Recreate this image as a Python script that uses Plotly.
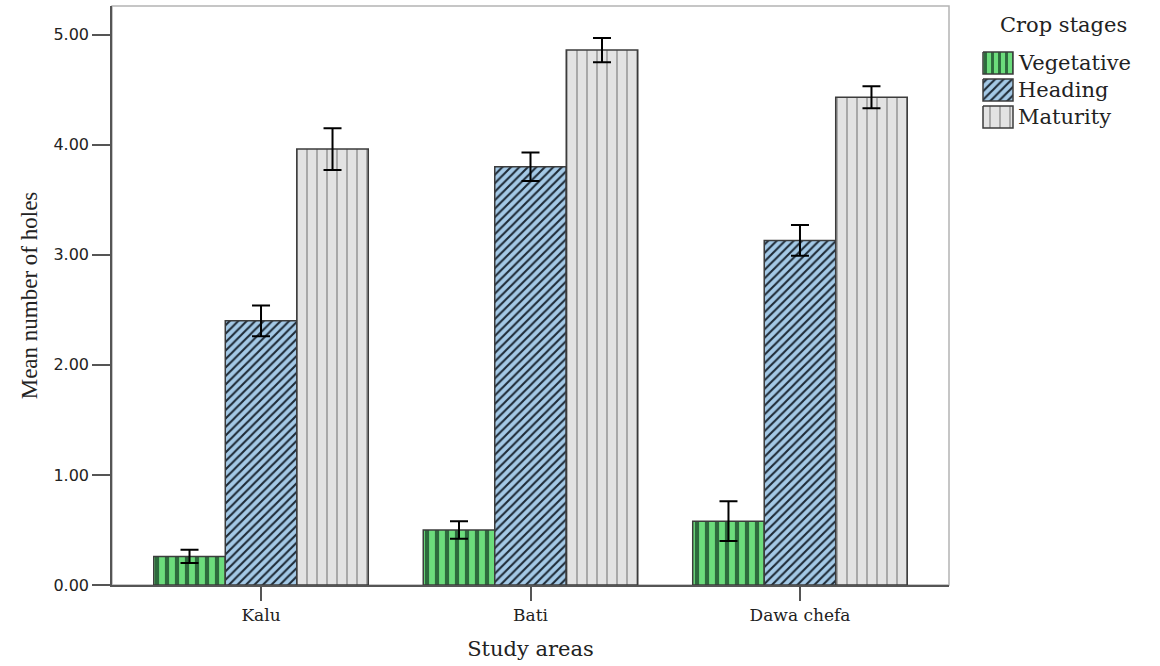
import plotly.graph_objects as go

# Study areas and crop stages
areas = ["Kalu", "Bati", "Dawa chefa"]
stages = ["Vegetative", "Heading", "Maturity"]

# Mean number of holes per stage (one value per study area) and error half-widths
vegetative = [0.26, 0.50, 0.58]
vegetative_err = [0.06, 0.08, 0.18]
heading = [2.40, 3.80, 3.13]
heading_err = [0.14, 0.13, 0.14]
maturity = [3.96, 4.86, 4.43]
maturity_err = [0.19, 0.11, 0.10]

y_tick_vals = [0, 1, 2, 3, 4, 5]
y_tick_text = ["0.00", "1.00", "2.00", "3.00", "4.00", "5.00"]

series = {
    "Vegetative": (vegetative, vegetative_err),
    "Heading": (heading, heading_err),
    "Maturity": (maturity, maturity_err),
}

patterns = {
    "Vegetative": dict(shape="|", bgcolor="#6cdc7c", fgcolor="#2d6a3d", size=10, solidity=0.42),
    "Heading": dict(shape="/", bgcolor="#a4c9e6", fgcolor="#1e2a36", size=6, solidity=0.35),
    "Maturity": dict(shape="|", bgcolor="#e3e3e3", fgcolor="#9a9a9a", size=10, solidity=0.16),
}

serif = "DejaVu Serif"
text_color = "#222222"
edge_color = "#3c3c3c"

# Pixel geometry of the figure
W, H = 1160, 666
left, bottom, top = 112, 81, 6
plot_right = 949                 # right edge of the bar plot area
plot_w = W - left                # total width handed to the axes
main_frac = (plot_right - left) / plot_w
legend_x0 = 975                  # left edge of the legend panel

fig = go.Figure()
for name in stages:
    vals, errs = series[name]
    p = patterns[name]
    fig.add_trace(go.Bar(
        name=name,
        x=areas,
        y=vals,
        showlegend=False,
        marker=dict(
            color=p["bgcolor"],
            line=dict(color=edge_color, width=1.5),
            pattern=dict(shape=p["shape"], bgcolor=p["bgcolor"], fgcolor=p["fgcolor"],
                         size=p["size"], solidity=p["solidity"], fillmode="replace"),
        ),
        error_y=dict(type="data", array=errs, visible=True, color="#000000",
                     thickness=2, width=9),
    ))

# Legend panel on its own pixel-scaled axes: patterned swatches + labels
sw_x0, sw_w, sw_h = 983, 30, 22
row_y = [63, 90, 117]
for name, cy in zip(stages, row_y):
    p = patterns[name]
    y0, y1 = cy - sw_h / 2, cy + sw_h / 2
    fig.add_trace(go.Scatter(
        x=[sw_x0, sw_x0 + sw_w, sw_x0 + sw_w, sw_x0, sw_x0],
        y=[y0, y0, y1, y1, y0],
        xaxis="x2", yaxis="y2",
        mode="lines", fill="toself",
        fillcolor=p["bgcolor"],
        fillpattern=dict(shape=p["shape"], bgcolor=p["bgcolor"], fgcolor=p["fgcolor"],
                         size=p["size"] if name != "Vegetative" else 7,
                         solidity=p["solidity"], fillmode="replace"),
        line=dict(color=edge_color, width=1.5),
        showlegend=False, hoverinfo="skip",
    ))
    fig.add_annotation(x=sw_x0 + sw_w + 3, y=cy, xref="x2", yref="y2",
                       text=name, showarrow=False, xanchor="left", yanchor="middle",
                       font=dict(family=serif, size=21, color=text_color))

fig.add_annotation(x=1063, y=25, xref="x2", yref="y2", text="Crop stages",
                   showarrow=False, xanchor="center", yanchor="middle",
                   font=dict(family=serif, size=21, color=text_color))

# Plot frame: light grey box, darker axis lines drawn over it
fig.add_shape(type="rect", xref="x domain", yref="y domain", x0=0, x1=1, y0=0, y1=1,
              line=dict(color="#b4b4b4", width=1.5), fillcolor="rgba(0,0,0,0)", layer="below")

fig.update_layout(
    width=W,
    height=H,
    margin=dict(l=left, r=0, t=top, b=bottom),
    paper_bgcolor="white",
    plot_bgcolor="white",
    barmode="group",
    bargap=0.204,
    bargroupgap=0,
    xaxis=dict(
        domain=[0, main_frac],
        type="category",
        range=[-0.553, 2.553],
        showline=True, linecolor="#555555", linewidth=1.5,
        ticks="outside", ticklen=14, tickwidth=1.5, tickcolor="#555555",
        tickfont=dict(family=serif, size=17, color=text_color),
        showgrid=False, zeroline=False,
        title=dict(text="Study areas", font=dict(family=serif, size=21, color=text_color), standoff=17),
    ),
    yaxis=dict(
        range=[0, 5.26],
        tickvals=y_tick_vals, ticktext=y_tick_text,
        showline=True, linecolor="#555555", linewidth=1.5,
        ticks="outside", ticklen=18, tickwidth=1.5, tickcolor="#555555",
        tickfont=dict(family="DejaVu Sans", size=16, color=text_color),
        showgrid=False, zeroline=False,
        title=dict(text="Mean number of holes", font=dict(family="Liberation Serif", size=23, color=text_color), standoff=9),
    ),
    xaxis2=dict(
        domain=[(legend_x0 - left) / plot_w, 1],
        range=[legend_x0, W], anchor="y2",
        visible=False, fixedrange=True,
    ),
    yaxis2=dict(
        domain=[0, 1],
        range=[H - bottom, top], anchor="x2",
        visible=False, fixedrange=True,
    ),
)

fig.write_html("out.html")
